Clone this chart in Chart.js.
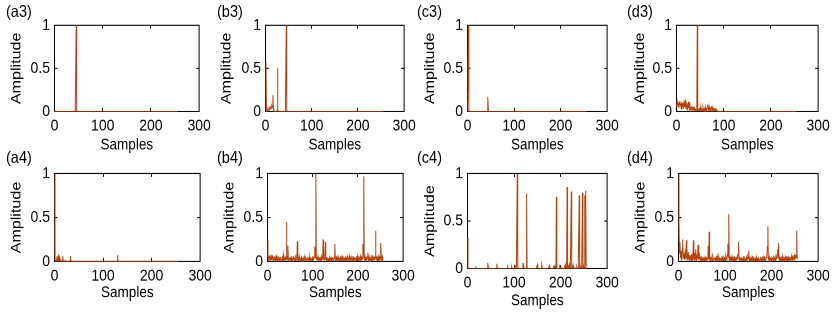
<!DOCTYPE html>
<html><head><meta charset="utf-8">
<script src="https://cdn.jsdelivr.net/npm/chart.js@4.4.0/dist/chart.umd.min.js"></script>
<style>
html,body{margin:0;padding:0;background:#fff;}
#wrap{position:relative;width:834px;height:316px;overflow:hidden;background:#fff;}
#inner{position:absolute;left:0;top:0;width:834px;height:316px;transform-origin:0 0;}
#inner canvas{position:absolute;}
.lbl{position:absolute;font-family:"Liberation Sans",Arial,sans-serif;font-size:14.5px;line-height:14.5px;color:#000;white-space:nowrap;}
</style></head><body><div id="wrap"><div id="inner"></div></div>
<script>
// ---- tick labels ----
const xTicks = [0, 100, 200, 300];
const xTickLabels = ['0', '100', '200', '300'];
const yTicks = [0, 0.5, 1];
const yTickLabels = ['0', '0.5', '1'];
const panelLabels = ['(a3)', '(b3)', '(c3)', '(d3)', '(a4)', '(b4)', '(c4)', '(d4)'];

// ---- series values (samples 0..255) ----
const a3 = [
0,0,0,0,0,0,0,0,0,0,0,0,0,0,0,0,
0,0,0,0,0,0,0,0,0,0,0,0,0,0,0,0,
0,0,0,0,0,0,0,0,0,0,0,0,0,1,0,0,
0,0,0,0,0,0,0,0,0,0,0,0,0,0,0,0,
0,0,0,0,0,0,0,0,0,0,0,0,0,0,0,0,
0,0,0,0,0,0,0,0,0,0,0,0,0,0,0,0,
0,0,0,0,0,0,0,0,0,0,0,0,0,0,0,0,
0,0,0,0,0,0,0,0,0,0,0,0,0,0,0,0,
0,0,0,0,0,0,0,0,0,0,0,0,0,0,0,0,
0,0,0,0,0,0,0,0,0,0,0,0,0,0,0,0,
0,0,0,0,0,0,0,0,0,0,0,0,0,0,0,0,
0,0,0,0,0,0,0,0,0,0,0,0,0,0,0,0,
0,0,0,0,0,0,0,0,0,0,0,0,0,0,0,0,
0,0,0,0,0,0,0,0,0,0,0,0,0,0,0,0,
0,0,0,0,0,0,0,0,0,0,0,0,0,0,0,0,
0,0,0,0,0,0,0,0,0,0,0,0,0,0,0,0];

const b3 = [
0.03,0.57,0.05,0.01,0.02,0.01,0.02,0.03,0.02,0.04,0.03,0.05,0.04,0.06,0.07,0.05,
0.19,0.03,0.01,0,0,0,0,0,0,0.01,0.50,0.02,0,0,0,0,
0,0,0,0,0,0,0,0,0,0,0,0,0,1,0.01,0,
0,0,0,0,0,0,0,0,0,0,0,0,0,0,0,0,
0,0,0,0,0,0,0,0,0,0,0,0,0,0,0,0,
0,0,0,0,0,0,0,0,0,0,0,0,0,0,0,0,
0,0,0,0,0,0,0,0,0,0,0,0,0,0,0,0,
0,0,0,0,0,0,0,0,0,0,0,0,0,0,0,0,
0,0,0,0,0,0,0,0,0,0,0,0,0,0,0,0,
0,0,0,0,0,0,0,0,0,0,0,0,0,0,0,0,
0,0,0,0,0,0,0,0,0,0,0,0,0,0,0,0,
0,0,0,0,0,0,0,0,0,0,0,0,0,0,0,0,
0,0,0,0,0,0,0,0,0,0,0,0,0,0,0,0,
0,0,0,0,0,0,0,0,0,0,0,0,0,0,0,0,
0,0,0,0,0,0,0,0,0,0,0,0,0,0,0,0,
0,0,0,0,0,0,0,0,0,0,0,0,0,0,0,0];

const c3 = [
0,0,1,0.02,0,0,0,0,0,0,0,0,0,0,0,0,
0,0,0,0,0,0,0,0,0,0,0,0,0,0,0,0,
0,0,0,0,0,0,0,0,0,0,0,0,0.17,0,0,0,
0,0,0,0,0,0,0,0,0,0,0,0,0,0,0,0,
0,0,0,0,0,0,0,0,0,0,0,0,0,0,0,0,
0,0,0,0,0,0,0,0,0,0,0,0,0,0,0,0,
0,0,0,0,0,0,0,0,0,0,0,0,0,0,0,0,
0,0,0,0,0,0,0,0,0,0,0,0,0,0,0,0,
0,0,0,0,0,0,0,0,0,0,0,0,0,0,0,0,
0,0,0,0,0,0,0,0,0,0,0,0,0,0,0,0,
0,0,0,0,0,0,0,0,0,0,0,0,0,0,0,0,
0,0,0,0,0,0,0,0,0,0,0,0,0,0,0,0,
0,0,0,0,0,0,0,0,0,0,0,0,0,0,0,0,
0,0,0,0,0,0,0,0,0,0,0,0,0,0,0,0,
0,0,0,0,0,0,0,0,0,0,0,0,0,0,0,0,
0,0,0,0,0,0,0,0,0,0,0,0,0,0,0,0];

const d3 = [
0.06,0.10,0.08,0.11,0.09,0.04,0.10,0.12,0.07,0.09,0.03,0.11,0.06,0.10,0.04,0.08,
0.11,0.05,0.09,0.12,0.03,0.07,0.10,0.02,0.06,0.09,0.04,0.11,0.03,0.05,0.02,0.04,
0.06,0.02,0.03,0.05,0.01,0.04,0.02,0.03,0.01,0.02,0.01,0.02,1,0.02,0.01,0.02,
0.01,0.03,0.02,0.04,0.01,0.02,0.03,0.01,0.05,0.02,0.01,0.03,0.02,0.05,0.01,0.03,
0.02,0.04,0.08,0.03,0.01,0.06,0.02,0.04,0.01,0.03,0.05,0.02,0.01,0.04,0.02,0.01,
0.03,0.02,0.01,0.02,0.01,0.02,0.01,0,0,0,0,0,0,0,0,0,
0,0,0,0,0,0,0,0,0,0,0,0,0,0,0,0,
0,0,0,0,0,0,0,0,0,0,0,0,0,0,0,0,
0,0,0,0,0,0,0,0,0,0,0,0,0,0,0,0,
0,0,0,0,0,0,0,0,0,0,0,0,0,0,0,0,
0,0,0,0,0,0,0,0,0,0,0,0,0,0,0,0,
0,0,0,0,0,0,0,0,0,0,0,0,0,0,0,0,
0,0,0,0,0,0,0,0,0,0,0,0,0,0,0,0,
0,0,0,0,0,0,0,0,0,0,0,0,0,0,0,0,
0,0,0,0,0,0,0,0,0,0,0,0,0,0,0,0,
0,0,0,0,0,0,0,0,0,0,0,0,0,0,0,0];

const a4 = [
1,0.04,0.01,0,0.02,0.06,0.01,0.03,0.06,0.02,0.05,0.01,0,0.01,0,0,
0.01,0.06,0.01,0,0,0,0.01,0,0,0,0,0,0,0,0,0,
0.01,0.06,0,0,0,0,0,0,0,0,0,0,0,0,0,0,
0,0,0,0,0,0,0,0,0,0,0,0,0,0,0,0,
0,0,0,0,0,0,0,0,0,0,0,0,0,0,0,0,
0,0,0,0,0,0,0,0,0,0,0,0,0,0,0,0,
0,0,0,0,0,0,0,0,0,0,0,0,0,0,0,0,
0,0,0,0,0,0,0,0,0,0,0,0,0,0,0,0,
0,0,0.07,0,0,0,0,0,0,0,0,0,0,0,0,0,
0,0,0,0,0,0,0,0,0,0,0,0,0,0,0,0,
0,0,0,0,0,0,0,0,0,0,0,0,0,0,0,0,
0,0,0,0,0,0,0,0,0,0,0,0,0,0,0,0,
0,0,0,0,0,0,0,0,0,0,0,0,0,0,0,0,
0,0,0,0,0,0,0,0,0,0,0,0,0,0,0,0,
0,0,0,0,0,0,0,0,0,0,0,0,0,0,0,0,
0,0,0,0,0,0,0,0,0,0,0,0,0,0,0,0];

const b4 = [
0.24,0.05,0.02,0.06,0.03,0.07,0.01,0.04,0.06,0.02,0.05,0.07,0.03,0.01,0.05,0.02,
0.06,0.03,0.01,0.05,0.07,0.02,0.04,0.01,0.03,0.06,0.02,0.01,0.04,0.05,0.02,0.03,
0.01,0.04,0.02,0.08,0.03,0.01,0.05,0.02,0.06,0.03,0.45,0.07,0.02,0.18,0.04,0.01,
0.03,0.05,0.02,0.01,0.04,0.06,0.02,0.03,0.01,0.05,0.06,0.02,0.04,0.01,0.07,0.03,
0.02,0.05,0.23,0.04,0.01,0.03,0.06,0.02,0.01,0.04,0.02,0.05,0.01,0.03,0.02,0.04,
0.01,0.02,0.05,0.03,0.01,0.04,0.02,0.01,0.03,0.05,0.02,0.01,0.04,0.02,0.05,0.01,
0.03,0.02,0.04,0.01,0.06,0.02,0.03,0.05,0.08,0.17,0.04,1,0.06,0.02,0.05,0.03,
0.01,0.04,0.02,0.05,0.03,0.01,0.04,0.06,0.02,0.03,0.07,0.25,0.05,0.02,0.04,0.06,
0.22,0.03,0.01,0.05,0.02,0.04,0.01,0.03,0.02,0.05,0.01,0.03,0.02,0.04,0.01,0.02,
0.05,0.02,0.03,0.01,0.06,0.20,0.03,0.01,0.04,0.02,0.05,0.01,0.03,0.02,0.04,0.01,
0.03,0.05,0.02,0.01,0.04,0.06,0.02,0.03,0.01,0.05,0.02,0.04,0.01,0.06,0.03,0.02,
0.04,0.01,0.05,0.02,0.03,0.06,0.01,0.04,0.02,0.05,0.03,0.01,0.06,0.02,0.04,0.01,
0.03,0.05,0.02,0.04,0.01,0.06,0.03,0.02,0.05,0.01,0.04,0.02,0.03,0.06,0.01,0.04,
0.02,0.05,0.03,0.20,0.06,0.97,0.04,0.02,0.05,0.01,0.03,0.06,0.02,0.04,0.10,0.03,
0.01,0.05,0.02,0.04,0.01,0.03,0.07,0.02,0.05,0.01,0.04,0.06,0.02,0.03,0.05,0.35,
0.04,0.02,0.06,0.01,0.03,0.06,0.02,0.04,0.01,0.05,0.03,0.21,0.04,0.02,0.05,0.01];

const c4 = [
0.32,0,0,0,0,0,0,0,0,0,0,0,0,0,0,0,
0,0,0.01,0,0,0,0,0,0,0,0,0,0,0,0,0,
0,0,0,0,0,0,0,0,0,0,0,0,0.06,0,0,0,
0,0,0,0,0,0,0,0,0,0,0,0,0,0,0,0.05,
0,0,0,0,0,0,0,0,0,0,0,0,0,0,0,0,
0,0,0,0,0,0,0.04,0,0,0,0,0,0,0,0,0.02,
0,0,0,0,0,0,0.02,0,0.04,0,0,1,0.02,0,0,0,
0,0,0,0,0,0,0,0.06,0,0.02,0,0,0,0,0,0.79,
0,0,0,0,0,0,0,0,0,0,0,0,0,0,0,0,
0,0,0,0,0,0,0.04,0,0,0,0,0,0,0,0,0,
0.04,0,0,0,0,0,0,0,0,0,0,0,0,0,0,0,
0.03,0,0,0,0,0,0,0,0,0,0.03,0,0,0.02,0,0.75,
0,0,0,0,0,0,0.04,0,0,0.01,0,0,0,0,0,0,
0,0,0.04,0,0.02,0,0.86,0,0.03,0,0,0.04,0,0,0,0.81,
0,0.03,0,0,0.02,0,0,0,0.01,0,0,0.02,0,0,0,0,
0.77,0,0.03,0,0.01,0,0.04,0.80,0,0.03,0,0,0.77,0.04,0.82,0];

const d4 = [
1,0.45,0.10,0.22,0.05,0.12,0.02,0.08,0.15,0.25,0.04,0.10,0.06,0.02,0.09,0.14,
0.05,0.24,0.03,0.08,0.01,0.06,0.11,0.02,0.05,0.03,0.07,0.01,0.04,0.09,0.02,0.06,
0.24,0.05,0.02,0.10,0.03,0.14,0.01,0.06,0.04,0.08,0.19,0.05,0.02,0.07,0.03,0.01,
0.05,0.02,0.06,0.01,0.03,0.04,0.02,0.01,0.03,0.05,0.02,0.01,0.04,0.02,0.03,0.05,
0.18,0.02,0.34,0.04,0.01,0.03,0.05,0.02,0.01,0.04,0.06,0.02,0.01,0.03,0.05,0.02,
0.01,0.04,0.02,0.06,0.01,0.03,0.02,0.05,0.01,0.03,0.02,0.04,0.01,0.06,0.02,0.03,
0.01,0.04,0.02,0.05,0.01,0.03,0.06,0.02,0.04,0.08,0.20,0.05,0.54,0.03,0.01,0.04,
0.02,0.05,0.01,0.03,0.02,0.04,0.01,0.06,0.02,0.03,0.01,0.05,0.02,0.04,0.03,0.06,
0.08,0.22,0.03,0.01,0.04,0.02,0.05,0.01,0.03,0.02,0.04,0.01,0.06,0.02,0.03,0.01,
0.04,0.02,0.05,0.01,0.03,0.06,0.04,0.12,0.02,0.01,0.04,0.02,0.03,0.01,0.05,0.02,
0.06,0.01,0.03,0.02,0.04,0.01,0.02,0.05,0.01,0.03,0.02,0.04,0.01,0.02,0.03,0.01,
0.04,0.02,0.01,0.05,0.02,0.03,0.01,0.04,0.02,0.06,0.01,0.03,0.02,0.05,0.08,0.17,
0.40,0.04,0.02,0.05,0.01,0.03,0.02,0.04,0.01,0.03,0.05,0.02,0.01,0.04,0.02,0.03,
0.01,0.05,0.03,0.06,0.08,0.14,0.04,0.21,0.03,0.01,0.04,0.02,0.05,0.01,0.03,0.06,
0.02,0.04,0.01,0.03,0.02,0.05,0.01,0.04,0.02,0.06,0.01,0.03,0.05,0.02,0.04,0.01,
0.03,0.05,0.02,0.06,0.04,0.01,0.05,0.03,0.07,0.02,0.06,0.04,0.08,0.05,0.35,0.03];

const seriesList = [a3, b3, c3, d3, a4, b4, c4, d4];

// ---- layout (pixel geometry of each panel's plot box, in page pixels) ----
const layoutBoxes = [
  {L:54,  R:201, T:24,  B:111, ytx:16,    xty:145, lx:6,   ly:3},
  {L:265, R:406, T:24,  B:111, ytx:226,   xty:145, lx:217, ly:3},
  {L:467, R:609, T:24,  B:111, ytx:429.5, xty:145, lx:417, ly:3},
  {L:676, R:820, T:24,  B:111, ytx:639.5, xty:145, lx:627, ly:3},
  {L:54,  R:202, T:173, B:261, ytx:16,    xty:293, lx:6,   ly:150},
  {L:267, R:405, T:173, B:261, ytx:229,   xty:293, lx:217, ly:150},
  {L:467, R:609, T:173, B:268, ytx:429.5, xty:301, lx:417, ly:150},
  {L:678, R:820, T:173, B:261, ytx:640,   xty:293, lx:627, ly:150}
];

const S = 1.15;            // vertical stretch of the original figure
const LINE = '#B3450F';
const FONT = '"Liberation Sans", Arial, sans-serif';

const framePlugin = {
  id: 'frame',
  beforeDatasetsDraw(chart) {
    const {ctx, chartArea: a, scales} = chart;
    ctx.save();
    ctx.strokeStyle = '#000';
    ctx.lineWidth = 1;
    ctx.strokeRect(a.left, a.top, a.right - a.left, a.bottom - a.top);
    ctx.beginPath();
    xTicks.forEach(v => {
      if (v === xTicks[0] || v === xTicks[xTicks.length - 1]) return;
      const px = Math.floor(scales.x.getPixelForValue(v)) + 0.5;
      ctx.moveTo(px, a.bottom); ctx.lineTo(px, a.bottom - 3);
      ctx.moveTo(px, a.top); ctx.lineTo(px, a.top + 3);
    });
    yTicks.forEach(v => {
      if (v === yTicks[0] || v === yTicks[yTicks.length - 1]) return;
      const py = scales.y.getPixelForValue(v);
      ctx.moveTo(a.left, py); ctx.lineTo(a.left + 3, py);
      ctx.moveTo(a.right, py); ctx.lineTo(a.right - 3, py);
    });
    ctx.stroke();
    ctx.restore();
  }
};

const wrap = document.getElementById('inner');
wrap.style.transform = 'scaleY(' + S + ')';
wrap.style.height = (316 / S) + 'px';

layoutBoxes.forEach((p, k) => {
  const values = seriesList[k];
  const Tu = (p.T + 0.5) / S, Bu = (p.B + 0.5) / S;
  const cl = p.L - 50;
  const ct = Math.floor(Tu - 12);
  const padTop = Tu - ct;
  const Wy = p.L - p.ytx + 10;
  const Hx = p.xty / S - Bu + 12.1;
  const cw = 50 + (p.R - p.L) + 14;
  const inner = padTop + (Bu - Tu) + Hx;
  const ch = Math.ceil(inner);
  const padB = ch - inner;

  const cv = document.createElement('canvas');
  cv.width = cw; cv.height = ch;
  cv.style.left = cl + 'px'; cv.style.top = ct + 'px';
  cv.style.width = cw + 'px'; cv.style.height = ch + 'px';
  wrap.appendChild(cv);

  const lbl = document.createElement('div');
  lbl.className = 'lbl';
  lbl.textContent = panelLabels[k];
  lbl.style.left = p.lx + 'px'; lbl.style.top = (p.ly / S) + 'px';
  wrap.appendChild(lbl);

  new Chart(cv, {
    type: 'line',
    data: {
      datasets: [{
        data: values.map((v, i) => ({x: i, y: v})),
        borderColor: LINE,
        borderWidth: 1,
        pointRadius: 0,
        fill: false,
        tension: 0
      }]
    },
    options: {
      responsive: false,
      animation: false,
      devicePixelRatio: 2,
      events: [],
      layout: {autoPadding: false, padding: {left: 50 - Wy + 0.5, right: 13.5, top: padTop, bottom: padB}},
      plugins: {legend: {display: false}, tooltip: {enabled: false}},
      scales: {
        x: {
          type: 'linear', min: xTicks[0], max: xTicks[xTicks.length - 1],
          afterBuildTicks: s => { s.ticks = xTicks.map(v => ({value: v})); },
          afterFit: s => { s.height = Hx; },
          grid: {display: false, drawTicks: false},
          border: {display: false},
          ticks: {
            color: '#000', font: {family: FONT, size: 14}, padding: 4.2,
            maxRotation: 0, autoSkip: false,
            callback: v => xTickLabels[xTicks.indexOf(v)]
          },
          title: {display: true, text: 'Samples', color: '#000',
                  font: {family: FONT, size: 13.5}, padding: {top: 0, bottom: 4}}
        },
        y: {
          type: 'linear', min: yTicks[0], max: yTicks[yTicks.length - 1],
          afterBuildTicks: s => { s.ticks = yTicks.map(v => ({value: v})); },
          afterFit: s => { s.width = Wy; },
          grid: {display: false, drawTicks: false},
          border: {display: false},
          ticks: {
            color: '#000', font: {family: FONT, size: 14}, padding: 4.5,
            autoSkip: false,
            callback: v => yTickLabels[yTicks.indexOf(v)]
          },
          title: {display: true, text: 'Amplitude', color: '#000',
                  font: {family: FONT, size: 14}, padding: {top: 1.6, bottom: 0}}
        }
      }
    },
    plugins: [framePlugin]
  });
});
</script>
</body></html>
